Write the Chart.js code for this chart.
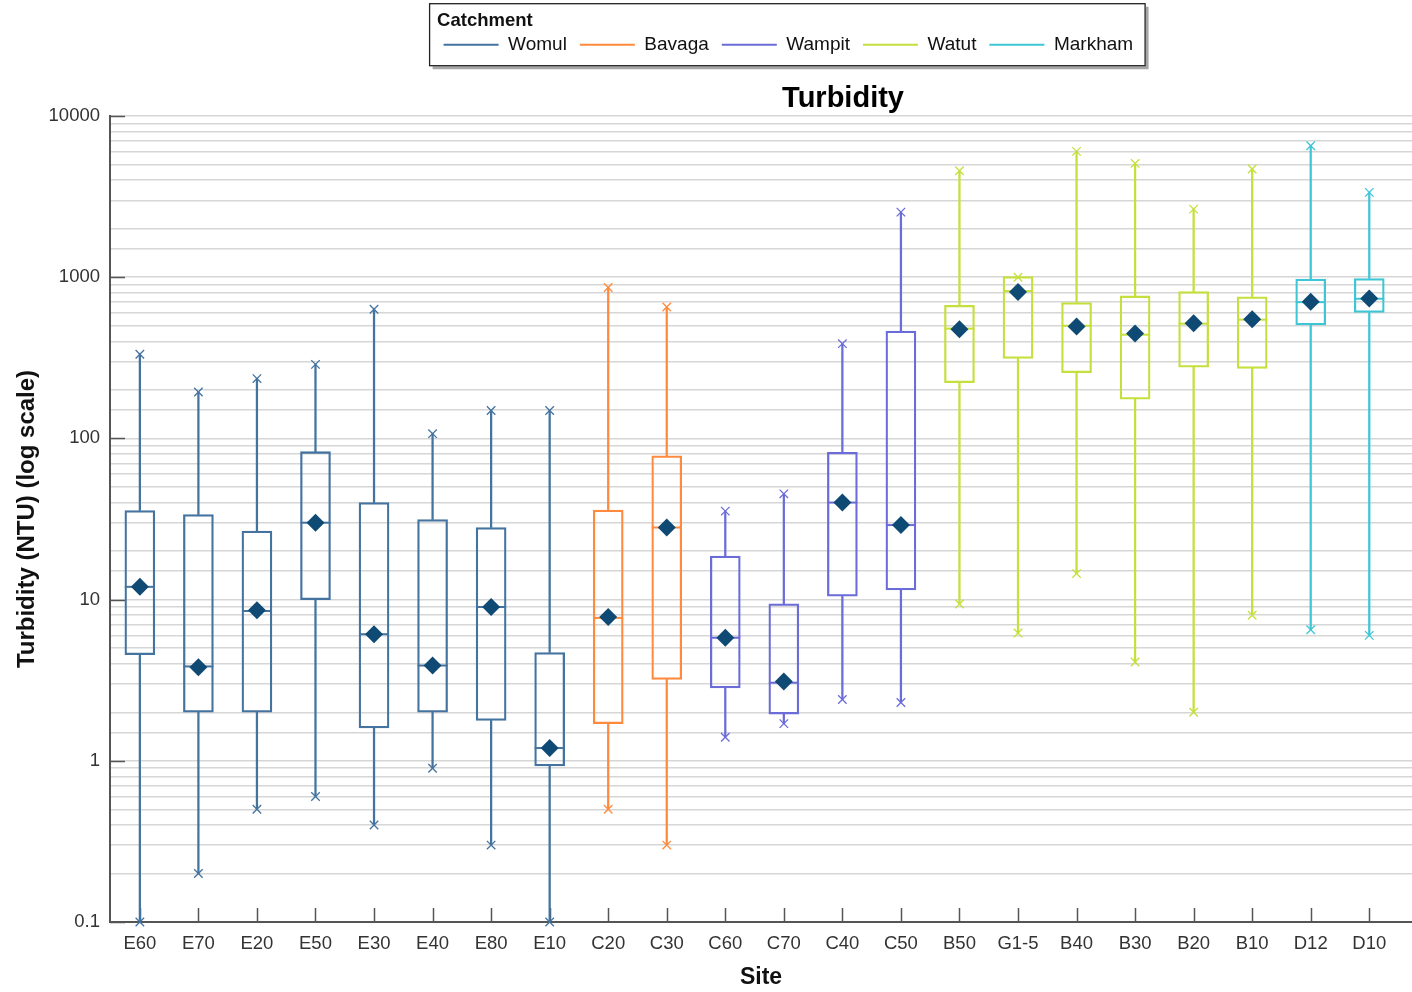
<!DOCTYPE html>
<html>
<head>
<meta charset="utf-8">
<script src="https://cdn.jsdelivr.net/npm/chart.js@4.4.1/dist/chart.umd.min.js"></script>
<style>
  html, body { margin: 0; padding: 0; background: #fff; }
</style>
</head>
<body>
<canvas id="chart" width="1412" height="992"></canvas>
<script>
// Sites, in plotting order, and the catchment each belongs to
const sites = ['E60', 'E70', 'E20', 'E50', 'E30', 'E40', 'E80', 'E10', 'C20', 'C30', 'C60', 'C70',
  'C40', 'C50', 'B50', 'G1-5', 'B40', 'B30', 'B20', 'B10', 'D12', 'D10'];
const siteCatchment = ['Womul', 'Womul', 'Womul', 'Womul', 'Womul', 'Womul', 'Womul', 'Womul',
  'Bavaga', 'Bavaga', 'Wampit', 'Wampit', 'Wampit', 'Wampit',
  'Watut', 'Watut', 'Watut', 'Watut', 'Watut', 'Watut', 'Markham', 'Markham'];
const catchments = ['Womul', 'Bavaga', 'Wampit', 'Watut', 'Markham'];

// Turbidity (NTU) summary per site
const minValues = [0.1, 0.2, 0.5, 0.6, 0.4, 0.9, 0.3, 0.1, 0.5, 0.3, 1.4, 1.7, 2.4, 2.3,
  9.4, 6.2, 14.5, 4.1, 2.0, 8.0, 6.5, 6.0];
const q1Values = [4.55, 2.0, 2.0, 10, 1.6, 2.0, 1.78, 0.93, 1.7, 3.2, 2.83, 1.95, 10.5, 11.5,
  222, 313, 256, 175, 277, 272, 506, 604];
const medianValues = [12, 3.85, 8.5, 30, 6.1, 3.9, 9.0, 1.2, 7.7, 28, 5.8, 3.05, 40, 29,
  480, 820, 500, 440, 515, 545, 700, 735];
const meanValues = [12, 3.8, 8.6, 30, 6.1, 3.9, 9.0, 1.2, 7.8, 28, 5.8, 3.1, 40, 29,
  475, 810, 495, 447, 518, 548, 703, 738];
const q3Values = [35.7, 33.7, 26.6, 82.7, 40, 31.4, 28, 4.7, 35.9, 78, 18.6, 9.4, 82, 464,
  670, 1010, 696, 765, 815, 755, 972, 982];
const maxValues = [333, 194, 235, 288, 633, 107, 149, 149, 863, 654, 35.4, 45.3, 387, 2534,
  4570, 1000, 6036, 5080, 2645, 4690, 6540, 3360];

const yTickDecades = [0.1, 1, 10, 100, 1000, 10000];

// styling
const catchmentColors = ['#44739f', '#ff8a3d', '#6c6cd8', '#c5df3c', '#3fc6d6'];
const MEAN_COLOR = '#0f4a74';
const AXIS_COLOR = '#555555';
const siteColors = siteCatchment.map(c => catchmentColors[catchments.indexOf(c)]);

Chart.defaults.font.family = '"Liberation Sans", Arial, sans-serif';

const isDecade = v => yTickDecades.some(d => Math.abs(v - d) / d < 1e-6);

// tick marks drawn inside the plot, like the original figure
const innerTicks = {
  id: 'innerTicks',
  beforeDatasetsDraw(chart) {
    const { ctx, chartArea, scales: { x, y } } = chart;
    ctx.save();
    ctx.strokeStyle = AXIS_COLOR;
    ctx.lineWidth = 1.5;
    ctx.beginPath();
    y.ticks.forEach(t => {
      if (!isDecade(t.value)) return;
      const py = Math.round(y.getPixelForValue(t.value)) + 0.5;
      ctx.moveTo(chartArea.left, py);
      ctx.lineTo(chartArea.left + 15, py);
    });
    x.ticks.forEach(t => {
      const px = Math.round(x.getPixelForValue(t.value)) + 0.5;
      ctx.moveTo(px, chartArea.bottom);
      ctx.lineTo(px, chartArea.bottom - 14);
    });
    ctx.stroke();
    ctx.restore();
  }
};

// the source figure has its title and legend off-centre
const shiftBlocks = {
  id: 'shiftBlocks',
  afterLayout(chart) {
    const area = chart.chartArea;
    const moveTo = (box, frac) => {
      const target = area.left + frac * (area.right - area.left);
      const dx = target - (box.left + box.right) / 2;
      box.left += dx;
      box.right += dx;
    };
    moveTo(chart.titleBlock, 0.563);
    moveTo(chart.legend, 0.521);
  }
};

// frame + drop shadow around the legend
const legendFrame = {
  id: 'legendFrame',
  afterDraw(chart) {
    const lg = chart.legend;
    if (!lg || !lg.legendHitBoxes.length) return;
    const boxes = lg.legendHitBoxes;
    const mid = boxes[0].top + boxes[0].height / 2;
    const left = Math.min(...boxes.map(b => b.left)) - 14;
    const right = Math.max(...boxes.map(b => b.left + b.width)) + 12;
    const top = mid - 41;
    const bottom = mid + 21;
    const { ctx } = chart;
    ctx.save();
    ctx.strokeStyle = 'rgba(0,0,0,0.35)';
    ctx.lineWidth = 3;
    ctx.beginPath();
    ctx.moveTo(left + 3, bottom + 2);
    ctx.lineTo(right + 2, bottom + 2);
    ctx.lineTo(right + 2, top + 3);
    ctx.stroke();
    ctx.strokeStyle = '#222';
    ctx.lineWidth = 1.3;
    ctx.strokeRect(left, top, right - left, bottom - top);
    ctx.restore();
  }
};

const idx = sites.map((_, i) => i);

const datasets = [
  {
    label: 'mean',
    type: 'scatter',
    data: idx.map(i => ({ x: i, y: meanValues[i] })),
    pointStyle: 'rectRot',
    pointRadius: 9,
    backgroundColor: MEAN_COLOR,
    borderWidth: 0,
    clip: false,
    order: 0
  },
  {
    label: 'median',
    type: 'scatter',
    data: idx.map(i => ({ x: i, y: medianValues[i] })),
    pointStyle: 'line',
    pointRadius: 15,
    borderColor: siteColors,
    borderWidth: 2,
    clip: false,
    order: 1
  },
  {
    label: 'max',
    type: 'scatter',
    data: idx.map(i => ({ x: i, y: maxValues[i] })),
    pointStyle: 'crossRot',
    pointRadius: 6,
    borderColor: siteColors,
    borderWidth: 1.3,
    clip: false,
    order: 2
  },
  {
    label: 'min',
    type: 'scatter',
    data: idx.map(i => ({ x: i, y: minValues[i] })),
    pointStyle: 'crossRot',
    pointRadius: 6,
    borderColor: siteColors,
    borderWidth: 1.3,
    clip: false,
    order: 2
  },
  {
    label: 'box',
    type: 'bar',
    data: idx.map(i => ({ x: i, y: [q1Values[i], q3Values[i]] })),
    backgroundColor: 'rgba(255,255,255,0)',
    borderColor: siteColors,
    borderWidth: 1.6,
    borderSkipped: false,
    barThickness: 30,
    grouped: false,
    order: 3
  },
  {
    label: 'upper whisker',
    type: 'bar',
    data: idx.map(i => ({ x: i, y: [q3Values[i], maxValues[i]] })),
    backgroundColor: siteColors,
    borderWidth: 0,
    barThickness: 1.6,
    grouped: false,
    order: 4
  },
  {
    label: 'lower whisker',
    type: 'bar',
    data: idx.map(i => ({ x: i, y: [minValues[i], q1Values[i]] })),
    backgroundColor: siteColors,
    borderWidth: 0,
    barThickness: 1.6,
    grouped: false,
    order: 4
  }
];

new Chart(document.getElementById('chart'), {
  type: 'bar',
  data: { datasets },
  plugins: [innerTicks, shiftBlocks, legendFrame],
  options: {
    responsive: false,
    animation: false,
    events: [],
    layout: { autoPadding: false, padding: 0 },
    plugins: {
      tooltip: { enabled: false },
      legend: {
        position: 'top',
        weight: 3000,
        labels: {
          generateLabels: () => catchments.map((c, i) => ({
            text: c,
            fillStyle: catchmentColors[i],
            strokeStyle: catchmentColors[i],
            lineWidth: 0,
            hidden: false,
            datasetIndex: 0
          })),
          boxWidth: 55,
          boxHeight: 2,
          padding: 13,
          color: '#222',
          font: { size: 19 }
        },
        title: {
          display: true,
          text: 'Catchment',
          position: 'start',
          color: '#111',
          font: { size: 18.5, weight: 'bold' },
          padding: { top: 12, bottom: -12 }
        }
      },
      title: {
        display: true,
        text: 'Turbidity',
        color: '#000',
        font: { size: 29, weight: 'bold' },
        padding: { top: 17, bottom: 0 }
      }
    },
    scales: {
      x: {
        type: 'linear',
        offset: false,
        min: -0.51,
        max: 21.73,
        afterBuildTicks: scale => { scale.ticks = idx.map(i => ({ value: i })); },
        afterFit: scale => {
          scale.height = 70;
          scale.paddingLeft = 0;
          scale.paddingRight = 0;
        },
        ticks: {
          autoSkip: false,
          maxRotation: 0,
          padding: 11,
          color: '#333',
          font: { size: 18.5 },
          callback: v => sites[v] ?? ''
        },
        grid: { display: false, drawTicks: false },
        border: { color: AXIS_COLOR, width: 2 },
        title: {
          display: true,
          text: 'Site',
          color: '#111',
          font: { size: 23, weight: 'bold' },
          padding: { top: 0, bottom: 1 }
        }
      },
      y: {
        type: 'logarithmic',
        min: 0.1,
        max: 10000,
        afterFit: scale => { scale.width = 110; },
        ticks: {
          autoSkip: false,
          padding: 10,
          color: '#333',
          font: { size: 18.5 },
          callback: v => isDecade(v) ? String(v >= 1 ? Math.round(v) : +v.toFixed(1)) : ''
        },
        grid: { color: '#d6d6d6', lineWidth: 1.5, drawTicks: false },
        border: { color: AXIS_COLOR, width: 2 },
        title: {
          display: true,
          text: 'Turbidity (NTU) (log scale)',
          color: '#111',
          font: { size: 24, weight: 'bold' },
          padding: { top: 13, bottom: 0 }
        }
      }
    }
  }
});
</script>
</body>
</html>
